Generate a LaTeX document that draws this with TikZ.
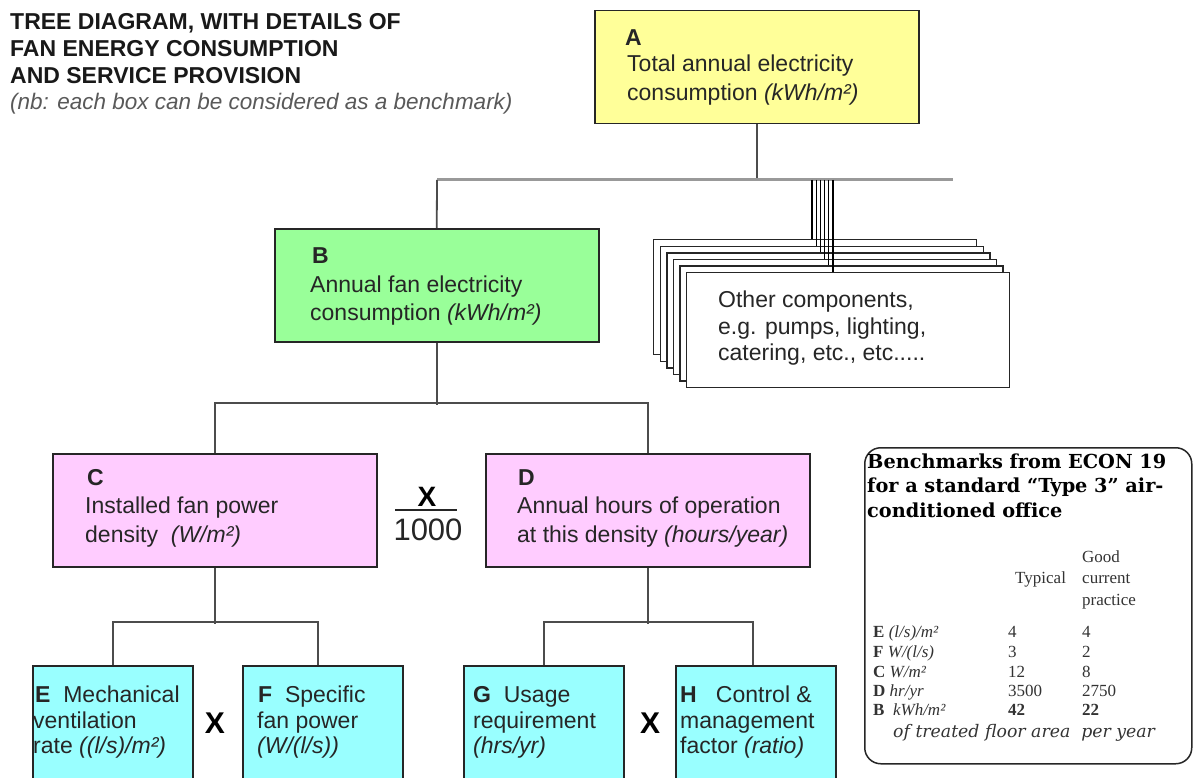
\documentclass[tikz,border=0pt]{standalone}
\usepackage{fontspec}
\setmainfont{Liberation Sans}
\newfontfamily\hserif{DejaVu Serif}
\newfontfamily\tserif{Liberation Serif}
\definecolor{cA}{HTML}{FFFF99}
\definecolor{cB}{HTML}{99FF99}
\definecolor{cC}{HTML}{FFCCFF}
\definecolor{cE}{HTML}{99FFFF}
\definecolor{ink}{HTML}{262626}
\tikzset{
  box/.style={draw=ink, line width=1.5pt, anchor=north west, inner sep=0pt},
  bigbox/.style={box, minimum width=324pt, minimum height=113pt},
  smallbox/.style={box, fill=cE, minimum width=160pt, minimum height=130pt},
  otherbox/.style={box, fill=white, line width=1.3pt, minimum width=323pt, minimum height=115pt},
  conn/.style={draw=black!70, line width=1.8pt},
  topline/.style={draw=black!40, line width=3pt},
  lbl/.style={anchor=base west, inner sep=0pt, text=ink, font=\fontsize{23}{25}\selectfont},
  title/.style={anchor=base west, inner sep=0pt, text=black!90, font=\fontsize{23}{27}\selectfont\bfseries},
  bmh/.style={anchor=base west, inner sep=0pt, text=black, font=\hserif\fontsize{19.3}{22}\selectfont\bfseries},
  bmt/.style={anchor=base west, inner sep=0pt, text=black!80, font=\tserif\fontsize{17}{20}\selectfont},
  opx/.style={inner sep=0pt, text=black, font=\fontsize{28}{30}\selectfont\bfseries},
}
\begin{document}
\begin{tikzpicture}[x=1pt,y=-1pt]
\useasboundingbox (0,0) rectangle (1196,778);
\fill[white] (0,0) rectangle (1196,778);

% title
\node[title] (t1) at (10,30) {TREE DIAGRAM, WITH DETAILS OF};
\node[title] (t2) at (10,57) {FAN ENERGY CONSUMPTION};
\node[title] (t3) at (10,84) {AND SERVICE PROVISION};
\node[lbl, text=black!65, font=\fontsize{22.5}{24}\selectfont\itshape] (t4) at (10,110) {(nb: each box can be considered as a benchmark)};

% boxes
\node[bigbox, fill=cA] (A) at (594,10) {};
\node[bigbox, fill=cB] (B) at (274,228) {};
\node[bigbox, fill=cC] (C) at (52,453) {};
\node[bigbox, fill=cC] (D) at (485,453) {};
\node[smallbox] (E) at (32,665) {};
\node[smallbox] (F) at (242,665) {};
\node[smallbox] (G) at (463,665) {};
\node[smallbox] (H) at (675,665) {};

% stacked "other" boxes
\foreach \k in {0,...,5}{
  \node[otherbox] (O\k) at ({653+\k*6.6},{239+\k*6.6}) {};
}

% connectors
\coordinate (h1L) at (437,180);
\coordinate (h1R) at (953,180);
\draw[conn] (A.south) -- (A.south |- h1L);
\draw[topline] (h1L) -- (h1R);
\draw[conn] (h1L) -- (B.north);
\foreach \k in {0,...,5}{
  \coordinate (hO\k) at ({812+\k*4.2},180);
  \draw[draw=black, line width=1.2pt] (hO\k) -- (hO\k |- O\k.north);
}
\draw[conn] (B.south) -- ++(0,62);
\draw[conn] (C.north) -- ++(0,-50) -| (D.north);
\draw[conn] (C.south) -- ++(0,56);
\draw[conn] (E.north) -- ++(0,-43) -| ([xshift=-5pt]F.north);
\draw[conn] (D.south) -- ++(0,56);
\draw[conn] (G.north) -- ++(0,-43) -| ([xshift=-3pt]H.north);

% texts in boxes
\node[lbl, font=\fontsize{23}{25}\selectfont\bfseries] (Aa) at (625,46) {A};
\node[lbl] (Ab) at (627,72) {Total annual electricity};
\node[lbl] (Ac) at (627,101) {consumption \textit{(kWh/m²)}};

\node[lbl, font=\fontsize{23}{25}\selectfont\bfseries] (Ba) at (312,263) {B};
\node[lbl] (Bb) at (310,292) {Annual fan electricity};
\node[lbl] (Bc) at (310,320) {consumption \textit{(kWh/m²)}};

\node[lbl] (Oa) at (718,307) {Other components,};
\node[lbl] (Ob) at (718,334) {e.g. pumps, lighting,};
\node[lbl] (Oc) at (718,360) {catering, etc., etc.....};

\node[lbl, font=\fontsize{23}{25}\selectfont\bfseries] (Ca) at (87,485) {C};
\node[lbl] (Cb) at (85,513) {Installed fan power};
\node[lbl] (Cc) at (85,542) {density \ \textit{(W/m²)}};

\node[lbl, font=\fontsize{23}{25}\selectfont\bfseries] (Da) at (518,485) {D};
\node[lbl] (Db) at (517,513) {Annual hours of operation};
\node[lbl] (Dc) at (517,542) {at this density \textit{(hours/year)}};

\node[lbl] (Ea) at (35,702) {\textbf{E}\ \ Mechanical};
\node[lbl] (Eb) at (33,728) {ventilation};
\node[lbl] (Ec) at (33,753) {rate \textit{((l/s)/m²)}};

\node[lbl] (Fa) at (258,702) {\textbf{F}\ \ Specific};
\node[lbl] (Fb) at (257,728) {fan power};
\node[lbl] (Fc) at (257,753) {\textit{(W/(l/s))}};

\node[lbl] (Ga) at (473,702) {\textbf{G}\ \ Usage};
\node[lbl] (Gb) at (473,728) {requirement};
\node[lbl] (Gc) at (473,753) {\textit{(hrs/yr)}};

\node[lbl] (Ha) at (680,702) {\textbf{H}\ \ \ Control \&};
\node[lbl] (Hb) at (680,728) {management};
\node[lbl] (Hc) at (680,753) {factor \textit{(ratio)}};

% operators
\node[opx] (x1) at (427,497) {X};
\draw[line width=2pt, black!85] (395,510) -- (457,510);
\node[inner sep=0pt, font=\fontsize{31}{33}\selectfont, text=black!85] (k1000) at (428,530) {1000};
\node[opx, font=\fontsize{30}{32}\selectfont\bfseries] (x2) at (215,723) {X};
\node[opx, font=\fontsize{30}{32}\selectfont\bfseries] (x3) at (650,723) {X};

% benchmarks panel
\node[box, rounded corners=16pt, minimum width=327pt, minimum height=316pt, line width=1.5pt] (BM) at (864,447) {};
\node[bmh] (bm1) at (867,468) {Benchmarks from ECON 19};
\node[bmh] (bm2) at (867,492) {for a standard “Type 3” air-};
\node[bmh] (bm3) at (867,517) {conditioned office};
\node[bmt] (bgood) at (1082,562) {Good};
\node[bmt] (btyp) at (1015,583) {Typical};
\node[bmt] (bcur) at (1082,583) {current};
\node[bmt] (bpra) at (1082,605) {practice};

\node[bmt] (rE) at (873,637) {\textbf{E} \textit{(l/s)/m²}};
\node[bmt] (rEt) at (1008,637) {4};
\node[bmt] (rEg) at (1082,637) {4};
\node[bmt] (rF) at (873,657) {\textbf{F} \textit{W/(l/s)}};
\node[bmt] (rFt) at (1008,657) {3};
\node[bmt] (rFg) at (1082,657) {2};
\node[bmt] (rC) at (873,677) {\textbf{C} \textit{W/m²}};
\node[bmt] (rCt) at (1008,677) {12};
\node[bmt] (rCg) at (1082,677) {8};
\node[bmt] (rD) at (873,696) {\textbf{D} \textit{hr/yr}};
\node[bmt] (rDt) at (1008,696) {3500};
\node[bmt] (rDg) at (1082,696) {2750};
\node[bmt] (rB) at (873,715) {\textbf{B} \ \textit{kWh/m²}};
\node[bmt, font=\tserif\fontsize{17}{20}\selectfont\bfseries] (rBt) at (1008,715) {42};
\node[bmt, font=\tserif\fontsize{17}{20}\selectfont\bfseries] (rBg) at (1082,715) {22};
\node[bmt, font=\hserif\fontsize{17.3}{20}\selectfont\itshape] (rN) at (893,737) {of treated floor area \ per year};
\end{tikzpicture}
\end{document}
